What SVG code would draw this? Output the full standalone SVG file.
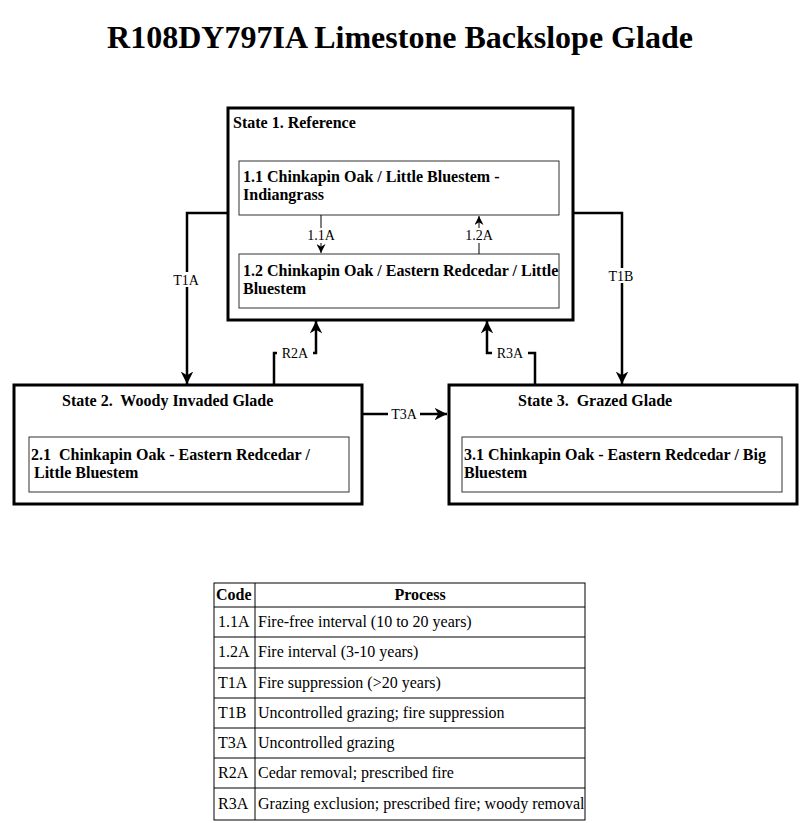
<svg xmlns="http://www.w3.org/2000/svg" width="800" height="823" viewBox="0 0 800 823">
<defs>
<style>
.t{font-family:"Liberation Serif","Times New Roman",serif;fill:#000}
.title{font-size:32px;font-weight:bold}
.st{font-size:16px;font-weight:bold}
.lbl{font-size:14px}
.tb{font-size:16px}
.outer{fill:#fff;stroke:#000;stroke-width:3}
.inner{fill:#fff;stroke:#333;stroke-width:1}
.con{fill:none;stroke:#000;stroke-width:2.5}
.thin{fill:none;stroke:#000;stroke-width:1}
.grid{fill:none;stroke:#000;stroke-width:1}
</style>
<marker id="ah" viewBox="0 0 10 10" refX="10" refY="5" markerWidth="5" markerHeight="5" orient="auto" markerUnits="strokeWidth">
<path d="M0,0 L10,5 L0,10 L3,5 z" fill="#000"/>
</marker>
<marker id="ahs" viewBox="0 0 10 10" refX="10" refY="5" markerWidth="9" markerHeight="9" orient="auto" markerUnits="strokeWidth">
<path d="M0,0 L10,5 L0,10 L3,5 z" fill="#000"/>
</marker>
</defs>
<rect width="800" height="823" fill="#fff"/>
<text class="t title" x="400" y="48" text-anchor="middle">R108DY797IA Limestone Backslope Glade</text>

<g id="state1">
<rect class="outer" x="228" y="108" width="345" height="212"/>
<text class="t st" x="233" y="128">State 1. Reference</text>
</g>
<g id="c11">
<rect class="inner" x="239" y="161" width="320" height="54"/>
<text class="t st" x="243" y="182">1.1 Chinkapin Oak / Little Bluestem -</text>
<text class="t st" x="243" y="200">Indiangrass</text>
</g>
<g id="c12">
<rect class="inner" x="239" y="254" width="320" height="54"/>
<text class="t st" x="243" y="276">1.2 Chinkapin Oak / Eastern Redcedar / Little</text>
<text class="t st" x="243" y="294">Bluestem</text>
</g>
<g id="state2">
<rect class="outer" x="14" y="385" width="348" height="119"/>
<text class="t st" x="62" y="406" xml:space="preserve">State 2.  Woody Invaded Glade</text>
</g>
<g id="c21">
<rect class="inner" x="29" y="437" width="320" height="55"/>
<text class="t st" x="31" y="460" xml:space="preserve">2.1  Chinkapin Oak - Eastern Redcedar /</text>
<text class="t st" x="34" y="478">Little Bluestem</text>
</g>
<g id="state3">
<rect class="outer" x="449" y="385" width="348" height="119"/>
<text class="t st" x="518" y="406" xml:space="preserve">State 3.  Grazed Glade</text>
</g>
<g id="c31">
<rect class="inner" x="462" y="437" width="320" height="55"/>
<text class="t st" x="464" y="460">3.1 Chinkapin Oak - Eastern Redcedar / Big</text>
<text class="t st" x="464" y="478">Bluestem</text>
</g>

<g id="connectors">
<line class="thin" x1="321" y1="215" x2="321" y2="253" marker-end="url(#ahs)"/>
<line class="thin" x1="479" y1="254" x2="479" y2="216" marker-end="url(#ahs)"/>
<path class="con" d="M228,213 H187 V384" marker-end="url(#ah)"/>
<path class="con" d="M573,213 H622 V384" marker-end="url(#ah)"/>
<path class="con" d="M274,385 V353 H316 V321" marker-end="url(#ah)"/>
<path class="con" d="M535,385 V353 H487 V321" marker-end="url(#ah)"/>
<line class="con" x1="362" y1="414" x2="447" y2="414" marker-end="url(#ah)"/>
<rect x="303" y="228" width="36" height="15" fill="#fff"/>
<text class="t lbl" x="321" y="240" text-anchor="middle">1.1A</text>
<rect x="461" y="228" width="36" height="15" fill="#fff"/>
<text class="t lbl" x="479" y="240" text-anchor="middle">1.2A</text>
<rect x="170" y="272" width="32" height="15" fill="#fff"/>
<text class="t lbl" x="186" y="285" text-anchor="middle">T1A</text>
<rect x="605" y="268" width="32" height="15" fill="#fff"/>
<text class="t lbl" x="621" y="281" text-anchor="middle">T1B</text>
<rect x="277" y="346" width="36" height="15" fill="#fff"/>
<text class="t lbl" x="295" y="358" text-anchor="middle">R2A</text>
<rect x="492" y="346" width="36" height="15" fill="#fff"/>
<text class="t lbl" x="510" y="358" text-anchor="middle">R3A</text>
<rect x="388" y="407" width="32" height="15" fill="#fff"/>
<text class="t lbl" x="404" y="419" text-anchor="middle">T3A</text>
</g>

<g id="table">
<rect class="grid" x="214" y="583" width="371" height="237"/>
<line class="grid" x1="255" y1="583" x2="255" y2="820"/>
<line class="grid" x1="214" y1="607" x2="585" y2="607"/>
<line class="grid" x1="214" y1="637" x2="585" y2="637"/>
<line class="grid" x1="214" y1="668" x2="585" y2="668"/>
<line class="grid" x1="214" y1="698" x2="585" y2="698"/>
<line class="grid" x1="214" y1="728" x2="585" y2="728"/>
<line class="grid" x1="214" y1="758" x2="585" y2="758"/>
<line class="grid" x1="214" y1="788" x2="585" y2="788"/>
<text class="t tb" x="216" y="600" font-weight="bold">Code</text>
<text class="t tb" x="420" y="600" font-weight="bold" text-anchor="middle">Process</text>
<text class="t tb" x="218" y="627">1.1A</text><text class="t tb" x="258" y="627">Fire-free interval (10 to 20 years)</text>
<text class="t tb" x="218" y="657">1.2A</text><text class="t tb" x="258" y="657">Fire interval (3-10 years)</text>
<text class="t tb" x="218" y="688">T1A</text><text class="t tb" x="258" y="688">Fire suppression (&gt;20 years)</text>
<text class="t tb" x="218" y="718">T1B</text><text class="t tb" x="258" y="718">Uncontrolled grazing; fire suppression</text>
<text class="t tb" x="218" y="748">T3A</text><text class="t tb" x="258" y="748">Uncontrolled grazing</text>
<text class="t tb" x="218" y="778">R2A</text><text class="t tb" x="258" y="778">Cedar removal; prescribed fire</text>
<text class="t tb" x="218" y="809">R3A</text><text class="t tb" x="258" y="809">Grazing exclusion; prescribed fire; woody removal</text>
</g>
</svg>
